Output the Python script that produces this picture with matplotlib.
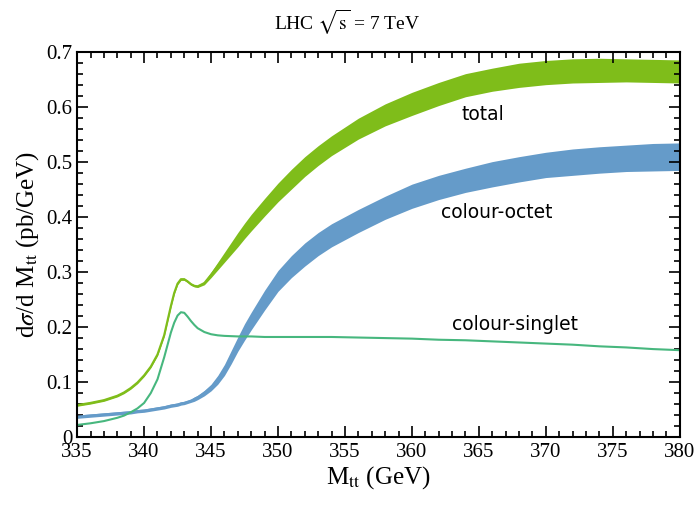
import numpy as np
import matplotlib
matplotlib.use("Agg")
import matplotlib.pyplot as plt

plt.rcParams['font.family'] = ['Liberation Serif', 'DejaVu Serif']
plt.rcParams['mathtext.fontset'] = 'stix'

# M_tt grid (GeV)
m = [335, 336, 337, 338, 338.5, 339, 339.5, 340, 340.5, 341, 341.5, 342,
     342.25, 342.5, 342.75, 343, 343.25, 343.5, 343.75, 344, 344.5, 345,
     345.5, 346, 346.5, 347, 347.5, 348, 349, 350, 351, 352, 353, 354, 356,
     358, 360, 362, 364, 366, 368, 370, 372, 374, 376, 378, 380]

# total: centre and half width of band
total_c = [0.058, 0.062, 0.067, 0.075, 0.081, 0.089, 0.099, 0.112, 0.128, 0.150,
           0.185, 0.238, 0.262, 0.279, 0.287, 0.287, 0.283, 0.278, 0.275, 0.274,
           0.280, 0.295, 0.311, 0.327, 0.343, 0.359, 0.375, 0.390, 0.418, 0.445,
           0.469, 0.492, 0.512, 0.530, 0.561, 0.586, 0.606, 0.624, 0.640, 0.650,
           0.658, 0.663, 0.666, 0.667, 0.667, 0.666, 0.665]
total_w = [0.002, 0.002, 0.002, 0.002, 0.002, 0.002, 0.002, 0.002, 0.002, 0.002,
           0.002, 0.002, 0.002, 0.002, 0.002, 0.002, 0.002, 0.002, 0.002, 0.002,
           0.003, 0.005, 0.007, 0.009, 0.011, 0.013, 0.014, 0.015, 0.016, 0.017,
           0.018, 0.018, 0.018, 0.018, 0.019, 0.020, 0.021, 0.021, 0.021, 0.021,
           0.022, 0.022, 0.022, 0.022, 0.021, 0.021, 0.021]

# colour-octet
octet_c = [0.037, 0.039, 0.041, 0.043, 0.044, 0.045, 0.047, 0.048, 0.050, 0.052,
           0.054, 0.057, 0.058, 0.059, 0.061, 0.062, 0.064, 0.066, 0.069, 0.072,
           0.080, 0.090, 0.104, 0.122, 0.145, 0.169, 0.191, 0.211, 0.249, 0.284,
           0.310, 0.332, 0.351, 0.367, 0.393, 0.417, 0.438, 0.454, 0.467, 0.478,
           0.487, 0.495, 0.500, 0.504, 0.507, 0.509, 0.510]
octet_w = [0.003, 0.003, 0.003, 0.003, 0.003, 0.003, 0.003, 0.003, 0.003, 0.003,
           0.003, 0.003, 0.003, 0.003, 0.003, 0.003, 0.003, 0.003, 0.004, 0.004,
           0.005, 0.006, 0.008, 0.010, 0.012, 0.013, 0.015, 0.016, 0.018, 0.019,
           0.020, 0.021, 0.021, 0.021, 0.021, 0.021, 0.022, 0.022, 0.022, 0.023,
           0.023, 0.023, 0.024, 0.024, 0.024, 0.025, 0.025]

# colour-singlet
singlet = [0.022, 0.025, 0.029, 0.035, 0.039, 0.045, 0.052, 0.062, 0.080, 0.105,
           0.145, 0.190, 0.208, 0.221, 0.227, 0.226, 0.219, 0.211, 0.204, 0.198,
           0.191, 0.187, 0.185, 0.184, 0.1835, 0.183, 0.183, 0.183, 0.182, 0.182,
           0.182, 0.182, 0.182, 0.182, 0.181, 0.180, 0.179, 0.177, 0.176, 0.174,
           0.172, 0.170, 0.168, 0.165, 0.163, 0.160, 0.158]

green = '#7fbd1a'
blue = '#659bc9'
teal = '#47b77e'

fig = plt.figure(figsize=(6.95, 5.07), dpi=100)
ax = fig.add_axes([0.111, 0.138, 0.867, 0.759])

m = np.array(m)
tc, tw = np.array(total_c), np.array(total_w)
oc, ow = np.array(octet_c), np.array(octet_w)

ax.fill_between(m, tc - tw, tc + tw, color=green, lw=0)
ax.plot(m, tc, color=green, lw=1.6, solid_joinstyle='round')
ax.fill_between(m, oc - ow, oc + ow, color=blue, lw=0)
ax.plot(m, oc, color=blue, lw=1.6, solid_joinstyle='round')
ax.plot(m, singlet, color=teal, lw=1.5, solid_joinstyle='round')

ax.text(365.3, 0.587, 'total', family='DejaVu Sans', fontsize=13.5, ha='center', va='center')
ax.text(366.3, 0.409, 'colour-octet', family='DejaVu Sans', fontsize=13.5, ha='center', va='center')
ax.text(367.7, 0.204, 'colour-singlet', family='DejaVu Sans', fontsize=13.5, ha='center', va='center')

ax.set_xlim(335, 380)
ax.set_ylim(0, 0.7)
ax.set_xticks(np.arange(335, 381, 5))
ax.set_xticks(np.arange(335, 381, 1), minor=True)
ax.set_yticks(np.arange(0, 0.71, 0.1))
ax.set_yticklabels(['0', '0.1', '0.2', '0.3', '0.4', '0.5', '0.6', '0.7'])
ax.set_yticks(np.arange(0, 0.701, 0.02), minor=True)
ax.tick_params(which='both', direction='in', top=True, right=True, labelsize=15, width=1.2)
ax.tick_params(which='major', length=8)
ax.tick_params(which='minor', length=4)
ax.tick_params(axis='x', pad=4)
for s in ax.spines.values():
    s.set_linewidth(1.5)

ax.set_xlabel(r'M$_{\rm tt}$ (GeV)', fontsize=18, labelpad=2)
ax.set_ylabel(r'd$\sigma$/d M$_{\rm tt}$ (pb/GeV)', fontsize=18, labelpad=4)
fig.text(0.5, 0.955, r'LHC $\sqrt{\rm s}$ = 7 TeV', ha='center', va='center', fontsize=14)

fig.savefig('out.png', dpi=100)
